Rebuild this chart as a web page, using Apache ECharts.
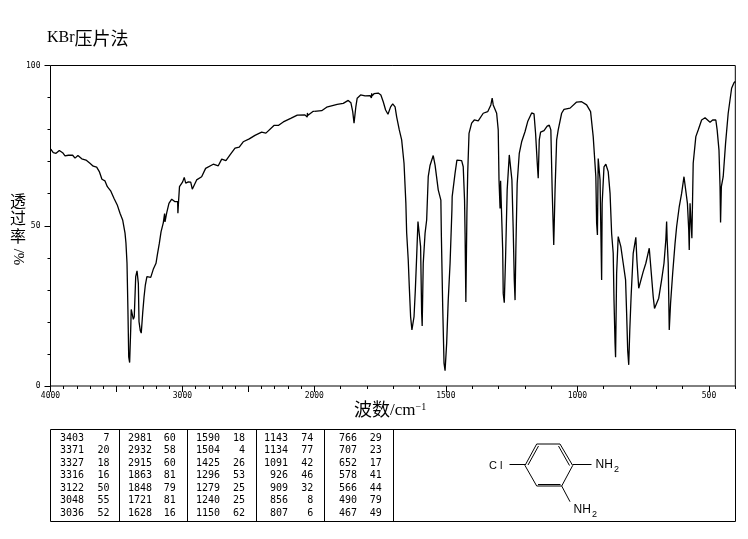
<!DOCTYPE html>
<html><head><meta charset="utf-8">
<style>html,body{margin:0;padding:0;background:#fff}#c{width:748px;height:539px}</style>
<script src="https://cdn.jsdelivr.net/npm/echarts@6/dist/echarts.min.js"></script>
</head><body><div id="c"></div>
<script>
const highWave=[3998,3979,3958,3933,3908,3890,3865,3832,3814,3792,3763,3731,3701,3676,3650,3630,3610,3587,3569,3544,3519,3494,3473,3453,3435,3428,3420,3413,3407,3400,3392,3388,3380,3372,3365,3354,3344,3334,3329,3319,3312,3301,3291,3281,3269,3240,3221,3200,3190,3175,3162,3145,3137,3135,3132,3119,3102,3081,3056,3036,3034,3029,3022,2998,2986,2975,2955,2937,2925,2892,2854,2824,2766,2728,2702,2670,2639,2601,2569,2539,2493,2450,2399,2367,2306,2273,2235,2179,2129,2071,2054,2052,2050,2008,2000];
const highT=[73.9,72.8,72.6,73.5,72.8,71.8,72.0,72.0,71.1,71.9,70.9,70.5,69.5,68.6,68.3,66.9,64.5,64.0,62.2,60.9,58.6,56.5,53.9,51.8,47.7,44.6,38.4,23.7,9.1,7.3,17.5,23.9,23.9,20.8,21.6,34.1,35.9,32.0,20.1,17.2,16.5,22.8,27.7,31.5,34.1,33.9,36.4,38.3,40.9,44.5,48.1,50.9,51.3,53.8,51.2,54.0,57.0,58.3,57.5,57.5,53.9,57.7,62.2,63.7,65.1,63.3,63.7,63.6,61.4,64.3,65.3,67.9,69.2,68.7,70.8,70.3,72.1,74.2,74.5,76.2,77.1,78.2,79.2,78.9,81.3,81.3,82.4,83.5,84.5,84.6,83.9,85.2,84.4,85.7,85.7];
const lowWave=[2000,1972,1953,1913,1890,1871,1861,1854,1849,1842,1837,1824,1807,1788,1783,1782,1781,1773,1757,1747,1738,1729,1720,1710,1702,1693,1687,1677,1668,1659,1652,1649,1643,1639,1634,1629,1624,1621,1616,1611,1606,1601,1596,1592,1590,1586,1579,1573,1567,1560,1548,1541,1529,1519,1517,1512,1507,1503,1497,1491,1484,1477,1476,1465,1458,1440,1434,1429,1427,1424,1420,1417,1412,1402,1392,1377,1358,1341,1329,1324,1320,1307,1301,1298,1294,1292,1291,1284,1282,1278,1273,1267,1259,1254,1249,1244,1240,1237,1234,1229,1221,1212,1199,1189,1174,1165,1159,1153,1149,1145,1140,1127,1115,1107,1101,1096,1090,1085,1079,1073,1060,1051,1028,1003,984,965,950,940,930,927,924,921,917,914,911,908,906,899,892,883,876,870,864,861,857,855,851,845,841,835,826,817,813,809,805,801,796,788,778,774,767,761,750,740,727,722,712,707,702,691,680,671,664,661,659,655,651,646,638,629,623,613,604,595,588,582,577,575,572,570,565,560,550,541,528,515,496,486,474,469,462,458,456,453,446,437,427,414,405,400];
const lowT=[85.7,85.9,87.0,87.9,88.2,89.1,88.4,85.6,82.0,87.2,89.8,90.8,90.5,90.6,89.9,91.3,90.5,91.2,91.4,90.8,88.7,86.1,84.8,87.1,88.0,87.1,84.0,79.9,76.8,69.5,57.0,47.8,39.3,31.0,21.6,17.5,17.3,21.6,30.0,40.3,51.3,51.3,43.5,22.7,18.7,38.3,47.7,51.8,65.3,68.9,71.9,68.9,61.2,58.0,46.6,24.7,7.1,4.8,13.3,26.8,38.3,54.9,59.1,66.4,70.5,70.3,68.4,58.0,47.7,26.2,54.0,66.4,78.8,82.0,83.0,82.7,85.1,85.6,87.7,89.8,87.7,85.1,79.9,64.3,55.4,64.0,61.2,42.4,28.9,26.0,40.3,61.2,72.1,71.9,64.3,48.7,33.1,26.8,42.4,63.2,72.6,76.2,79.4,82.5,85.2,84.9,78.8,70.0,64.8,76.8,79.2,79.7,81.1,81.4,79.9,61.2,44.0,61.2,76.8,79.9,85.1,86.3,86.7,88.6,88.7,87.7,85.6,77.8,65.3,50.8,47.1,71.0,71.0,64.3,48.7,33.1,57.0,68.4,69.2,66.9,60.1,47.6,41.4,26.8,13.3,9.0,35.2,46.6,47.1,43.5,38.3,33.1,22.7,11.2,6.6,17.5,27.9,41.4,46.4,39.3,30.5,30.5,35.7,38.3,43.0,42.4,27.9,24.2,24.2,27.4,33.1,38.3,45.6,51.3,45.6,38.3,17.5,25.8,35.2,44.5,49.7,56.0,60.1,65.3,65.8,57.0,48.7,42.4,57.0,57.0,46.1,69.5,77.8,79.9,83.0,83.7,82.3,83.0,83.0,79.9,73.6,62.2,51.0,62.2,65.3,75.7,85.1,92.9,94.6,95.0];
const peakWave=[3403,3371,3327,3316,3122,3048,3036,2981,2932,2915,1863,1848,1721,1628,1590,1504,1425,1296,1279,1240,1150,1143,1134,1091,926,909,856,807,766,707,652,578,566,490,467];
const peakT=[7,20,18,16,50,55,52,60,58,60,81,79,81,16,18,4,26,53,25,25,62,74,77,42,46,32,8,6,29,23,17,41,44,79,49];
const xLabelsHigh=[4000,3000];
const xLabelsLow=[2000,1500,1000,500];
const yLabels=[0,50,100];

const mono='"DejaVu Sans Mono",monospace';
const cjk='"Liberation Serif","Noto Sans CJK SC",serif';
const rows=[438.3,450.7,463.3,475.7,488.3,500.7,513.3];
const waveRight=[84,152,220,288,357];
const valueRight=[109.5,175.7,245,313.3,381.7];
const g=[];
const line=(x1,y1,x2,y2)=>g.push({type:'line',silent:true,shape:{x1,y1,x2,y2},style:{stroke:'#000',lineWidth:1}});
const txt=(x,y,text,size,align,family,extra)=>g.push({type:'text',silent:true,x,y,style:Object.assign({text,fontSize:size,fontFamily:family||mono,fill:'#000',align:align||'left',verticalAlign:'middle'},extra||{})});

// peak table
g.push({type:'rect',silent:true,shape:{x:50.5,y:429.5,width:685,height:92},style:{fill:'none',stroke:'#000',lineWidth:1}});
[119.5,187.5,256.5,324.5,393.5].forEach(x=>line(x,429.5,x,521.5));
peakWave.forEach((w,i)=>{
  const c=Math.floor(i/7),r=i%7;
  txt(waveRight[c],rows[r],String(w),10,'right');
  txt(valueRight[c],rows[r],String(peakT[i]),10,'right');
});
// structure
const ring=[[525,465.5],[536.7,444],[560,444],[572.7,465.5],[561.7,486],[536.7,486]];
ring.forEach((p,i)=>{const q=ring[(i+1)%6];line(p[0],p[1],q[0],q[1]);});
line(528,465,538.5,446);line(558.5,446,569.5,465.5);line(538,484.5,560.5,484.5);
line(509.5,464.5,525,464.5);line(572.7,464.5,591.5,464.5);line(561.7,486,570,501.7);
txt(489,465.5,'C l',11,'left','"Liberation Sans",sans-serif');
txt(595.5,465,'NH',12,'left','"Liberation Sans",sans-serif');
txt(614,470,'2',9,'left','"Liberation Sans",sans-serif');
txt(573.5,509.5,'NH',12,'left','"Liberation Sans",sans-serif');
txt(592,514.5,'2',9,'left','"Liberation Sans",sans-serif');
// axis titles
g.push({type:'text',silent:true,x:354,y:411,style:{text:'{a|波数}{b|/cm}{c|−1}',fill:'#000',verticalAlign:'middle',rich:{
  a:{fontSize:18,fontFamily:cjk,fill:'#000'},
  b:{fontSize:17,fontFamily:'"Liberation Serif",serif',fill:'#000'},
  c:{fontSize:10,fontFamily:'"Liberation Serif",serif',fill:'#000',verticalAlign:'top',padding:[0,0,8,0]}}}});
g.push({type:'text',silent:true,x:18,y:220,style:{text:'透\n过\n率',fontSize:16,lineHeight:17.5,fontFamily:cjk,fill:'#000',align:'center',verticalAlign:'middle'}});
g.push({type:'text',silent:true,x:18,y:257,rotation:-Math.PI/2,style:{text:'/%',fontSize:15,fontFamily:'"Liberation Serif",serif',fill:'#000',align:'center',verticalAlign:'middle'}});

const rectL={left:50.5,top:65.5,width:263.8,height:320.5};
const rectR={left:314.3,top:65.5,width:421,height:320.5};
const labelStyle={color:'#000',fontSize:8,fontFamily:mono,margin:6,formatter:v=>String(v)};
const tickLine={color:'#000',width:1};
const hiddenY=i=>({type:'value',gridIndex:i,min:0,max:100,show:false});

const chart=echarts.init(document.getElementById('c'),null,{renderer:'canvas'});
chart.setOption({
  animation:false,backgroundColor:'#fff',
  title:{left:47,top:29,padding:0,text:'{a|KBr}{b|压片法}',textStyle:{fontWeight:'normal',rich:{
    a:{fontSize:16,fontWeight:'normal',fontFamily:'"Liberation Serif",serif',color:'#000'},
    b:{fontSize:18,fontWeight:'normal',fontFamily:'"Noto Sans CJK SC",sans-serif',color:'#000'}}}},
  grid:[
    {left:50.5,top:65.5,width:684.8,height:320.5,show:true,borderColor:'#000',borderWidth:1,backgroundColor:'transparent'},
    rectL,rectR,rectR
  ],
  xAxis:[
    {type:'value',gridIndex:0,min:0,max:1,show:false},
    {type:'value',gridIndex:1,min:2000,max:4000,interval:500,inverse:true,splitLine:{show:false},axisLine:{show:false},
      axisTick:{show:true,length:6,lineStyle:tickLine},
      minorTick:{show:true,splitNumber:5,length:3,lineStyle:tickLine},
      axisLabel:{customValues:xLabelsHigh,showMinLabel:true,showMaxLabel:true,...labelStyle}},
    {type:'value',gridIndex:2,min:400,max:2000,interval:100,inverse:true,splitLine:{show:false},axisLine:{show:false},
      axisTick:{show:true,length:3,lineStyle:tickLine},axisLabel:{show:false}},
    {type:'value',gridIndex:3,min:400,max:2000,interval:100,inverse:true,splitLine:{show:false},axisLine:{show:false},
      axisTick:{show:true,length:6,customValues:xLabelsLow,lineStyle:tickLine},
      axisLabel:{customValues:xLabelsLow,...labelStyle}}
  ],
  yAxis:[
    hiddenY(0),
    {type:'value',gridIndex:1,min:0,max:100,interval:50,splitLine:{show:false},axisLine:{show:false},
      axisTick:{show:true,length:6,lineStyle:tickLine},
      minorTick:{show:true,splitNumber:5,length:3,lineStyle:tickLine},
      axisLabel:{customValues:yLabels,...labelStyle,margin:10}},
    hiddenY(2),hiddenY(3)
  ],
  series:[
    {type:'line',xAxisIndex:1,yAxisIndex:1,data:highWave.map((w,i)=>[w,highT[i]]),showSymbol:false,silent:true,lineStyle:{color:'#000',width:1.3},clip:false},
    {type:'line',xAxisIndex:2,yAxisIndex:2,data:lowWave.map((w,i)=>[w,lowT[i]]),showSymbol:false,silent:true,lineStyle:{color:'#000',width:1.3},clip:false}
  ],
  graphic:{elements:g}
});
</script></body></html>
